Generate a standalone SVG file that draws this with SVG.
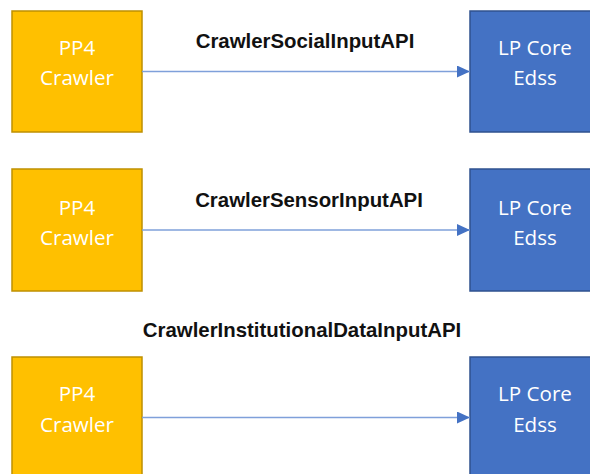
<svg xmlns="http://www.w3.org/2000/svg" width="590" height="474" viewBox="0 0 590 474">
<style>
.src{fill:#FFC000;stroke:#BF9000;stroke-width:1.5}
.dst{fill:#4472C4;stroke:#2F528F;stroke-width:1.5}
.nt{font-family:"Open Sans","Noto Sans",sans-serif;font-size:20.6px;fill:#FFFFFF;text-anchor:middle}
.lbl{font-family:"Liberation Sans",Arial,sans-serif;font-weight:bold;font-size:20.4px;fill:#111111;text-anchor:middle}
.conn{stroke:#7FA0DA;stroke-width:1.5;fill:none}
</style>
<defs>
<marker id="ah" markerWidth="13" markerHeight="12" refX="13" refY="6" orient="auto" markerUnits="userSpaceOnUse">
<path d="M0,0 L13,6 L0,12 Z" fill="#4472C4"/>
</marker>
</defs>
<rect width="590" height="474" fill="#FFFFFF"/>
<g id="crawler1"><rect class="src" x="12" y="11" width="130" height="121"/><text class="nt" x="77" y="55">PP4</text><text class="nt" x="77" y="85">Crawler</text></g>
<g id="edss1"><rect class="dst" x="470" y="11" width="130" height="121"/><text class="nt" x="535" y="55">LP Core</text><text class="nt" x="535" y="85">Edss</text></g>
<g id="crawler2"><rect class="src" x="12" y="169" width="130" height="122"/><text class="nt" x="77" y="215">PP4</text><text class="nt" x="77" y="245">Crawler</text></g>
<g id="edss2"><rect class="dst" x="470" y="169" width="130" height="122"/><text class="nt" x="535" y="215">LP Core</text><text class="nt" x="535" y="245">Edss</text></g>
<g id="crawler3"><rect class="src" x="12" y="357" width="130" height="122"/><text class="nt" x="77" y="401">PP4</text><text class="nt" x="77" y="432">Crawler</text></g>
<g id="edss3"><rect class="dst" x="470" y="357" width="130" height="122"/><text class="nt" x="535" y="401">LP Core</text><text class="nt" x="535" y="432">Edss</text></g>
<g id="connectors">
<line class="conn" x1="142" y1="71.5" x2="470" y2="71.5" marker-end="url(#ah)"/>
<line class="conn" x1="142" y1="230" x2="470" y2="230" marker-end="url(#ah)"/>
<line class="conn" x1="142" y1="417.5" x2="470" y2="417.5" marker-end="url(#ah)"/>
<text class="lbl" x="305" y="48">CrawlerSocialInputAPI</text>
<text class="lbl" x="309" y="207">CrawlerSensorInputAPI</text>
<text class="lbl" x="302" y="337">CrawlerInstitutionalDataInputAPI</text>
</g>
</svg>
